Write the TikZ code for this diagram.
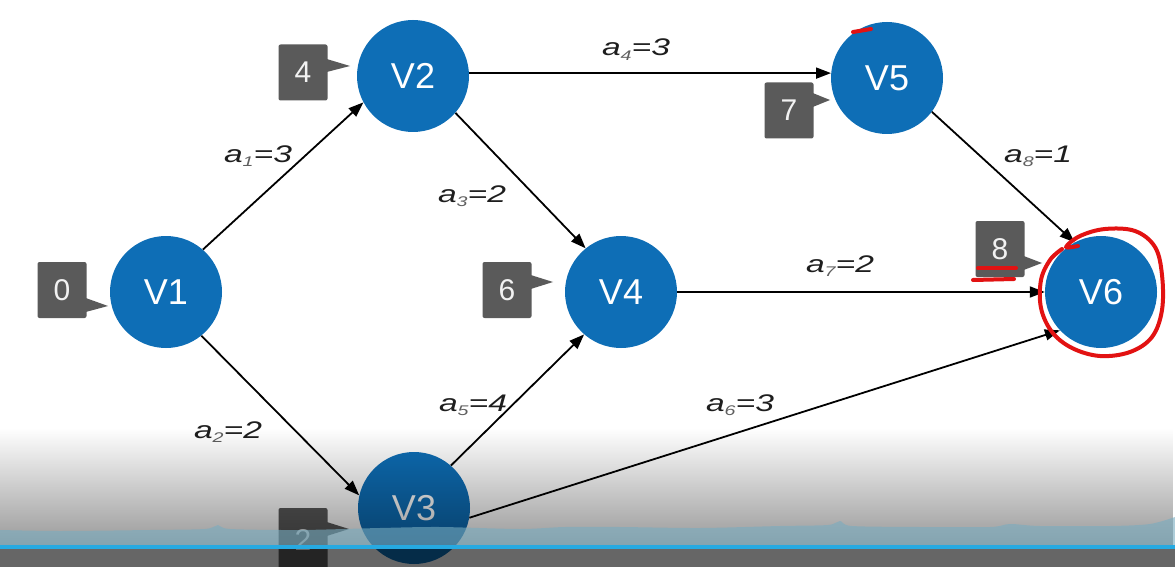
\documentclass[tikz,border=0pt]{standalone}
\usepackage{fontspec}
\setmainfont{Liberation Sans}
\usepackage{graphicx}
\usetikzlibrary{arrows.meta,fadings,calc}
\definecolor{nodeblue}{RGB}{14,110,182}
\definecolor{taggray}{RGB}{90,90,90}
\definecolor{annot}{RGB}{226,18,18}
\definecolor{bandblue}{RGB}{120,172,192}
\definecolor{lineblue}{RGB}{38,170,226}
\definecolor{labeltext}{RGB}{30,30,30}
\definecolor{labelsub}{RGB}{95,95,95}
\tikzfading[name=fadeup, top color=transparent!100, bottom color=transparent!0]
\newcommand\wlbl[2]{\scalebox{1.4}[1]{\itshape a\raisebox{-0.18em}{\fontsize{14}{14}\selectfont\color{labelsub}#1}=#2}}
\tikzset{
  vert/.style={circle, fill=nodeblue, minimum size=112pt, inner sep=0pt, text=white, font=\fontsize{36}{40}\selectfont},
  tagbox/.style={rectangle, rounded corners=2pt, fill=taggray, minimum width=49pt, minimum height=56pt, inner sep=0pt, text=white!95!black, font=\fontsize{30}{34}\selectfont},
  tagtip/.style={fill=taggray},
  edge/.style={line width=1.8pt, -{Triangle[length=15pt,width=11pt]}},
  wlabel/.style={font=\fontsize{24}{26}\selectfont, text=labeltext, inner sep=0pt, anchor=base},
  annotline/.style={annot, line width=4pt, line cap=round, line join=round}
}
\begin{document}
\begin{tikzpicture}[x=1pt,y=-1pt]
\useasboundingbox (0,0) rectangle (1175,567);
\fill[white] (0,0) rectangle (1175,567);

% vertices
\node[vert] (v1) at (166,292) {V1};
\node[vert] (v2) at (413,76) {V2};
\node[vert] (v3) at (414,508) {V3};
\node[vert] (v4) at (621,292) {V4};
\node[vert] (v5) at (887,78) {V5};
\node[vert] (v6) at (1101,292) {V6};

% tags
\node[tagbox] (t1) at (62,290) {0};
\coordinate (p1) at (108,306);
\fill[tagtip] ($(t1.east)+(-1,8)$) -- (p1) -- ($(t1.east)+(-1,22)$) -- cycle;

\node[tagbox] (t2) at (303,72.5) {4};
\coordinate (p2) at (350,66);
\fill[tagtip] ($(t2.east)+(-1,-13.5)$) -- (p2) -- ($(t2.east)+(-1,-0.5)$) -- cycle;

\node[tagbox] (t5) at (789,110.5) {7};
\coordinate (p5) at (830,100);
\fill[tagtip] ($(t5.east)+(-1,-17.5)$) -- (p5) -- ($(t5.east)+(-1,-3.5)$) -- cycle;

\node[tagbox] (t4) at (507,290) {6};
\coordinate (p4) at (553,282);
\fill[tagtip] ($(t4.east)+(-1,-15)$) -- (p4) -- ($(t4.east)+(-1,-1)$) -- cycle;

\node[tagbox] (t6) at (1000,249) {8};
\coordinate (p6) at (1042,263);
\fill[tagtip] ($(t6.east)+(-1,7)$) -- (p6) -- ($(t6.east)+(-1,21)$) -- cycle;

\node[tagbox, minimum height=64pt] (t3) at (303,540) {2};
\coordinate (p3) at (349,529);
\fill[tagtip] ($(t3.east)+(-1,-18)$) -- (p3) -- ($(t3.east)+(-1,-4)$) -- cycle;

% edges
\draw[edge] (v1.49) -- (v2.208);
\draw[edge] (v1.-51) -- (v3.167);
\draw[edge] (v2.3) -- (v5.175);
\draw[edge] (v2.-41) -- (v4.129);
\draw[edge] (v3.49) -- (v4.229);
\draw[edge] (v4) -- (v6);
\draw[edge] (v5.-37) -- (v6.118);
\draw[edge] (v3.-10) -- (v6.223);

% weights
\node[wlabel] (w1) at (258,162) {\wlbl{1}{3}};
\node[wlabel] (w2) at (228,438) {\wlbl{2}{2}};
\node[wlabel] (w3) at (472,202) {\wlbl{3}{2}};
\node[wlabel] (w4) at (636,56) {\wlbl{4}{3}};
\node[wlabel] (w5) at (473,411) {\wlbl{5}{4}};
\node[wlabel] (w6) at (740,411) {\wlbl{6}{3}};
\node[wlabel] (w7) at (840,272) {\wlbl{7}{2}};
\node[wlabel] (w8) at (1038,162) {\wlbl{8}{1}};

% red annotations
\draw[annotline] (853,32) -- (871,29);
\draw[annotline] (978,268) -- (1016,268);
\draw[annotline] (973,280) -- (1014,279);
\draw[annotline] plot[smooth, tension=0.6] coordinates {(1078,246) (1066,247) (1080,236) (1105,229) (1135,231) (1155,247) (1162,275) (1162,310) (1152,337) (1130,352) (1100,356) (1072,348) (1052,332) (1041,308) (1041,280) (1050,260) (1062,249)};

% video overlay at the bottom
\fill[black, opacity=0.4, path fading=fadeup] (0,428) rectangle (1175,545);
\fill[bandblue, opacity=0.6] plot[smooth, tension=0.5] coordinates {(0,530) (60,531) (150,530) (205,529) (218,525) (230,529) (300,530) (380,528) (440,527) (520,529) (565,527) (620,527) (700,528) (780,526) (828,525) (840,521) (852,526) (920,527) (990,527) (1010,524) (1040,526) (1110,526) (1150,524) (1175,517)} -- (1175,545) -- (0,545) -- cycle;
\fill[lineblue] (0,545) rectangle (1175,549);
\fill[black, opacity=0.6] (0,549) rectangle (1175,567);
\end{tikzpicture}
\end{document}
